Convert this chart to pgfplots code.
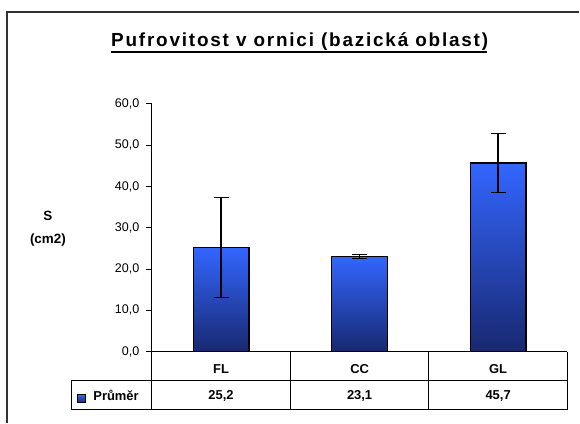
\documentclass[border=0pt]{standalone}
\usepackage{pgfplots}
\pgfplotsset{compat=1.18}
\usepackage{fontspec}
\setmainfont{Liberation Sans}
\newfontfamily\titlefont[LetterSpace=9.5]{Liberation Sans Bold}
\definecolor{barTop}{RGB}{51,102,255}
\definecolor{barMid}{RGB}{40,78,205}
\definecolor{barBot}{RGB}{24,40,112}
\definecolor{frameC}{RGB}{50,50,50}

\pgfplotsset{
  shadedbar/.style={ybar, bar width=56bp, bar shift=0pt, draw=black, line width=1.2pt,
    top color=barTop, middle color=barMid, bottom color=barBot,
    error bars/.cd, y dir=both, y explicit,
    error bar style={draw=black, line width=1.3pt},
    error mark options={rotate=90, mark size=7.5bp, line width=1.3pt, draw=black}},
}

\begin{document}
\begin{tikzpicture}[x=1bp,y=1bp]
\begin{axis}[
    scale only axis,
    width=416bp, height=248bp,
    at={(0,0)}, anchor=south west,
    xmin=-0.5, xmax=2.5,
    ymin=0, ymax=60,
    axis lines=left,
    axis line style={-, black, line width=0.8pt},
    xtick={0,1,2},
    xticklabels={FL,CC,GL},
    x tick style={draw=none},
    xticklabel style={anchor=center, yshift=-11bp, font=\fontsize{13}{15}\selectfont\bfseries},
    ytick={0,10,...,60},
    tick align=outside,
    major tick length=6bp,
    y tick style={black, line width=0.8pt},
    yticklabel style={font=\fontsize{12.6}{14}\selectfont, xshift=-3bp},
    /pgf/number format/.cd, fixed, fixed zerofill, precision=1, use comma, assume math mode=true,
    /pgfplots/.cd,
    clip=false,
]
\addplot[shadedbar] coordinates {(0,25.2) +- (0,12.1)};
\addplot[shadedbar] coordinates {(1,23.1) +- (0,0.5)};
\addplot[shadedbar] coordinates {(2,45.7) +- (0,7.1)};
\end{axis}
% data table below the axis
\draw[black, line width=0.8pt] (0,0) -- (0,-58);
\draw[black, line width=0.8pt] (138.67,0) -- (138.67,-58);
\draw[black, line width=0.8pt] (277.33,0) -- (277.33,-58);
\draw[black, line width=0.8pt] (416,0) -- (416,-58);
\draw[black, line width=0.8pt] (0,0) -- (416,0);
\draw[black, line width=0.8pt] (-81,-29) -- (416,-29);
\draw[black, line width=0.8pt] (-81,-58) -- (416,-58);
\draw[black, line width=0.8pt] (-81,-29) -- (-81,-58);
\begin{scope}[font=\fontsize{13}{15}\selectfont\bfseries]
\node at (69.33,-44) {25,2};
\node at (208,-44) {23,1};
\node at (346.67,-44) {45,7};
\node[anchor=west] at (-62,-44) {Průměr};
\end{scope}
\draw[black, line width=0.6pt, top color=barTop, bottom color=barBot] (-74.5,-51) rectangle (-66.5,-43);
% y label
\node[font=\fontsize{13.5}{15}\selectfont\bfseries] at (-104,136) {S};
\node[font=\fontsize{13.5}{15}\selectfont\bfseries] at (-104,112) {(cm2)};
% title, underlined by hand
\node[anchor=base, inner sep=0pt, font=\titlefont\fontsize{19}{21}\selectfont] (T) at (148,305) {Pufrovitost v ornici (bazická oblast)};
\draw[black, line width=1.8bp] ([yshift=-5bp]T.base west) -- ([yshift=-5bp,xshift=-1.5bp]T.base east);
% chart frame
\draw[frameC, line width=1.3pt] (-145,-71) -- (-145,340) -- (428,340);
\useasboundingbox (-152,-71) rectangle (428,352);
\end{tikzpicture}
\end{document}
